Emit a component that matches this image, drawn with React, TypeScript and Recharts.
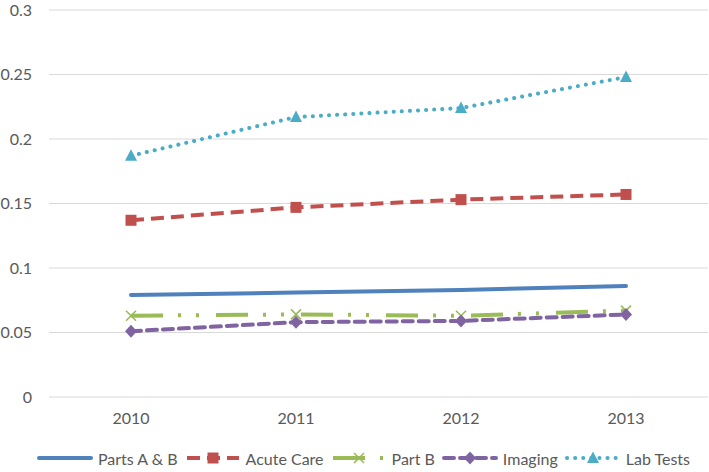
import React from "react"
import { LineChart, Line, XAxis, YAxis, CartesianGrid, Legend } from "recharts"

const YEARS = ["2010", "2011", "2012", "2013"]
const PARTS_AB = [0.079, 0.081, 0.083, 0.086]
const ACUTE_CARE = [0.137, 0.147, 0.153, 0.157]
const PART_B = [0.063, 0.064, 0.063, 0.067]
const IMAGING = [0.051, 0.058, 0.059, 0.064]
const LAB_TESTS = [0.187, 0.217, 0.224, 0.248]
const Y_TICKS = [0, 0.05, 0.1, 0.15, 0.2, 0.25, 0.3]

const FONT = "Lato, 'Open Sans', sans-serif"
const TEXT = "#595959"

const data = YEARS.map((year, i) => ({
  year,
  partsAB: PARTS_AB[i],
  acuteCare: ACUTE_CARE[i],
  partB: PART_B[i],
  imaging: IMAGING[i],
  labTests: LAB_TESTS[i],
}))

type Marker = "none" | "square" | "cross" | "diamond" | "triangle"

const drawMarker = (kind: Marker, cx: number, cy: number, color: string, key?: string | number) => {
  if (kind === "square")
    return <rect key={key} x={cx - 5.5} y={cy - 5.5} width={11} height={11} fill={color} />
  if (kind === "diamond")
    return <path key={key} d={`M${cx},${cy - 6.5} L${cx + 6},${cy} L${cx},${cy + 6.5} L${cx - 6},${cy} Z`} fill={color} />
  if (kind === "triangle")
    return <path key={key} d={`M${cx},${cy - 6.5} L${cx + 6},${cy + 5} L${cx - 6},${cy + 5} Z`} fill={color} />
  if (kind === "cross")
    return (
      <path
        key={key}
        d={`M${cx - 5},${cy - 5} L${cx + 5},${cy + 5} M${cx + 5},${cy - 5} L${cx - 5},${cy + 5}`}
        stroke={color}
        strokeWidth={1.6}
        fill="none"
      />
    )
  return <g key={key} />
}

const series = [
  { key: "partsAB", name: "Parts A & B", color: "#4F81BD", dash: undefined, cap: "round", marker: "none" as Marker },
  { key: "acuteCare", name: "Acute Care", color: "#C0504D", dash: "13 7", cap: "butt", marker: "square" as Marker },
  { key: "partB", name: "Part B", color: "#9BBB59", dash: "32 15 3 15 3 17", cap: "butt", marker: "cross" as Marker },
  { key: "imaging", name: "Imaging", color: "#8064A2", dash: "10 6", cap: "round", marker: "diamond" as Marker },
  { key: "labTests", name: "Lab Tests", color: "#4BACC6", dash: "0.1 8", cap: "round", marker: "triangle" as Marker },
]

const LegendContent = () => (
  <div
    style={{
      height: 40,
      paddingTop: 22,
      paddingLeft: 26,
      boxSizing: "border-box",
      display: "flex",
      justifyContent: "center",
      alignItems: "center",
      fontFamily: FONT,
      fontSize: 16,
      color: TEXT,
      whiteSpace: "nowrap",
    }}
  >
    {series.map((s) => (
      <div key={s.key} style={{ display: "flex", alignItems: "center", marginRight: 7 }}>
        <svg width={56} height={14} style={{ marginRight: 5 }}>
          <line
            x1={2}
            y1={7}
            x2={54}
            y2={7}
            stroke={s.color}
            strokeWidth={4}
            strokeDasharray={s.dash}
            strokeLinecap={s.cap as any}
          />
          {drawMarker(s.marker, 28, 7, s.color)}
        </svg>
        <span>{s.name}</span>
      </div>
    ))}
  </div>
)

export default function App() {
  return (
    <div style={{ position: "absolute", left: 0, top: 0, background: "#fff" }}>
      <LineChart width={709} height={472} data={data} margin={{ top: 10, right: 1, left: 0, bottom: 5 }}>
        <CartesianGrid vertical={false} stroke="#d9d9d9" strokeWidth={1} />
        <XAxis
          dataKey="year"
          axisLine={false}
          tickLine={false}
          height={30}
          padding={{ left: 82, right: 82 }}
          tickMargin={10}
          tick={{ fill: TEXT, fontSize: 16, fontFamily: FONT }}
        />
        <YAxis
          domain={[0, 0.3]}
          ticks={Y_TICKS}
          width={49}
          axisLine={false}
          tickLine={false}
          tickMargin={11}
          tick={{ fill: TEXT, fontSize: 16, fontFamily: FONT }}
        />
        <Legend verticalAlign="bottom" content={<LegendContent />} />
        {series.map((s) => (
          <Line
            key={s.key}
            type="linear"
            dataKey={s.key}
            name={s.name}
            stroke={s.color}
            strokeWidth={4}
            strokeDasharray={s.dash}
            strokeLinecap={s.cap as any}
            isAnimationActive={false}
            activeDot={false}
            dot={(p: any) => drawMarker(s.marker, p.cx, p.cy, s.color, `${s.key}-${p.index}`)}
          />
        ))}
      </LineChart>
    </div>
  )
}
